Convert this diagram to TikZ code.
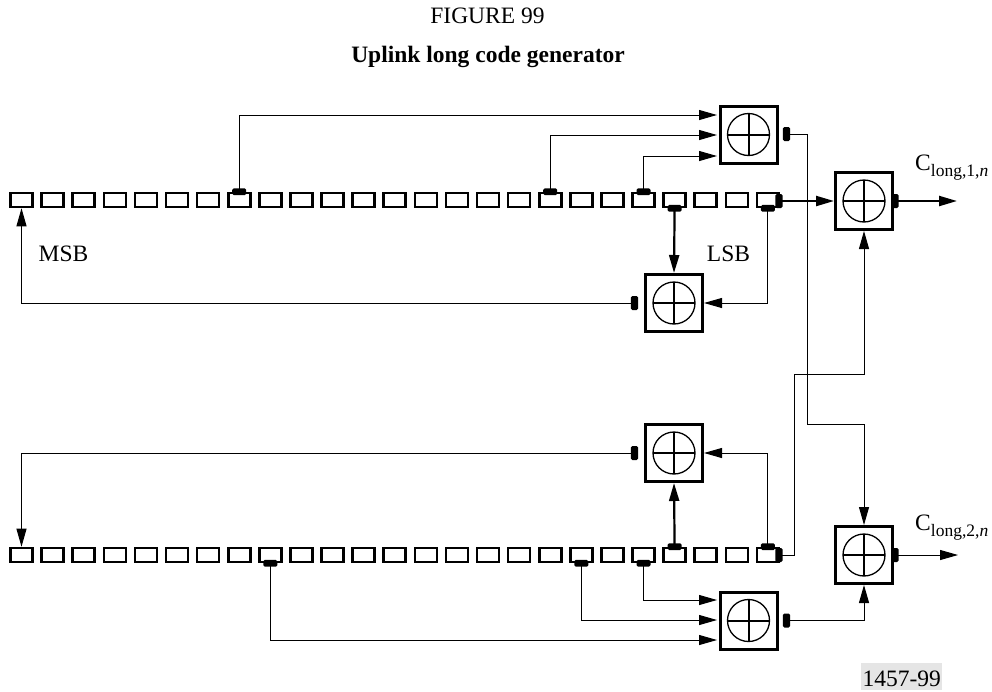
\documentclass[tikz,border=0pt]{standalone}
\usepackage{fontspec}
\setmainfont{Liberation Serif}
\usetikzlibrary{arrows.meta}
\tikzset{
  txt/.style={font=\fontsize{23.5}{26}\selectfont,inner sep=0,anchor=base},
  cell/.style={draw,line width=2.6pt,minimum width=22pt,minimum height=14pt,inner sep=0,outer sep=1.3pt},
  xorbox/.style={draw,line width=3pt,minimum size=57pt,inner sep=0,outer sep=1.5pt},
  htab/.style={fill=black,rounded corners=1.5pt,minimum width=14pt,minimum height=6.8pt,inner sep=0,outer sep=0},
  vtab/.style={fill=black,rounded corners=1.5pt,minimum width=7.2pt,minimum height=14pt,inner sep=0,outer sep=0},
  thin wire/.style={line width=1pt,-{Triangle[length=18pt,width=10pt]}},
  thick wire/.style={line width=2.2pt,-{Triangle[length=18pt,width=10pt]}},
  sublabel/.style={txt,anchor=base west}
}
\newcommand{\xorsign}[1]{%
  \draw[line width=1.3pt] (#1) circle[radius=21pt];
  \draw[line width=2pt] ([xshift=-21pt]#1.center) -- ([xshift=21pt]#1.center);
  \draw[line width=2pt] ([yshift=-21pt]#1.center) -- ([yshift=21pt]#1.center);
}
\newcommand{\sublong}[1]{C\raisebox{-6pt}{\fontsize{17.5}{18}\selectfont long,#1,\textit{n}}}
\begin{document}
\begin{tikzpicture}[x=1pt,y=-1pt]
\useasboundingbox (0,0) rectangle (992,691);
\node[txt] (fig) at (487.5,23) {FIGURE 99};
\node[txt,font=\fontsize{23.5}{26}\selectfont\bfseries] (ttl) at (488,62) {Uplink long code generator};
% shift registers
\foreach \i in {0,...,24}{
  \pgfmathsetmacro{\xx}{21.5+31.1*\i}
  \node[cell] (t\i) at (\xx,200) {};
  \node[cell] (b\i) at (\xx,555) {};
}
% xor gates
\node[xorbox] (A) at (748.5,134.5) {};
\node[xorbox] (B) at (864,201) {};
\node[xorbox] (C) at (674,303) {};
\node[xorbox] (D) at (674,453) {};
\node[xorbox] (E) at (864,555) {};
\node[xorbox] (F) at (748.5,620.5) {};
\foreach \g in {A,B,C,D,E,F}{\xorsign{\g}}
% taps, top register
\node[htab] (tp7) at (t7.north) {};
\node[htab] (tp17) at (t17.north) {};
\node[htab] (tp20) at (t20.north) {};
\node[htab] (tp21) at (t21.south) {};
\node[htab] (tp24) at (t24.south) {};
\node[vtab] (tr) at (779,201) {};
% taps, bottom register
\node[htab] (bp8) at (b8.south) {};
\node[htab] (bp18) at (b18.south) {};
\node[htab] (bp20) at (b20.south) {};
\node[htab] (bp21) at (b21.north) {};
\node[htab] (bp24) at (b24.north) {};
\node[vtab] (br) at (779,555) {};
% gate outputs
\node[vtab] (Ao) at (786.5,134) {};
\node[vtab] (Bo) at (895,201) {};
\node[vtab] (Co) at (634.5,303) {};
\node[vtab] (Do) at (634.5,453) {};
\node[vtab] (Eo) at (895,555) {};
\node[vtab] (Fo) at (786.5,620.5) {};
% helper points
\coordinate (A1) at (717,115);
\coordinate (A2) at (717,135);
\coordinate (A3) at (717,156);
\coordinate (F1) at (717,600);
\coordinate (F2) at (717,620);
\coordinate (F3) at (717,640);
\coordinate (Bend1) at (807,424.5);
\coordinate (Bend2) at (794,374.5);
\coordinate (OutB) at (957,201);
\coordinate (OutE) at (958,555);
% wires: top
\draw[thin wire] (tp7.center) |- (A1);
\draw[thin wire] (tp17.center) |- (A2);
\draw[thin wire] (tp20.center) |- (A3);
\draw[thick wire] (tp21.center) -- (C.north);
\draw[thin wire] (tp24.center) |- (C.east);
\draw[thin wire] (Co.center) -| (t0.south);
\draw[thick wire] (tr.center) -- (B.west);
\draw[thick wire] (Bo.center) -- (OutB);
% wires: bottom
\draw[thin wire] (bp8.center) |- (F3);
\draw[thin wire] (bp18.center) |- (F2);
\draw[thin wire] (bp20.center) |- (F1);
\draw[thick wire] (bp21.center) -- (D.south);
\draw[thin wire] (bp24.center) |- (D.east);
\draw[thin wire] (Do.center) -| (b0.north);
\draw[thin wire] (Eo.center) -- (OutE);
% cross wires
\draw[thin wire] (Ao.center) -| (Bend1) -| (E.north);
\draw[thin wire] (br.center) -| (Bend2) -| (B.south);
\draw[thin wire] (Fo.center) -| (E.south);
% labels
\node[txt] (msb) at (63.5,261.5) {MSB};
\node[txt] (lsb) at (728.5,261.5) {LSB};
\node[sublabel] (cl1) at (915,170) {\sublong{1}};
\node[sublabel] (cl2) at (915,530) {\sublong{2}};
\node[txt,anchor=north west,fill=black!10,minimum width=81pt,text height=23pt,text depth=4pt] (fignum) at (861,663) {1457-99};
\end{tikzpicture}
\end{document}
